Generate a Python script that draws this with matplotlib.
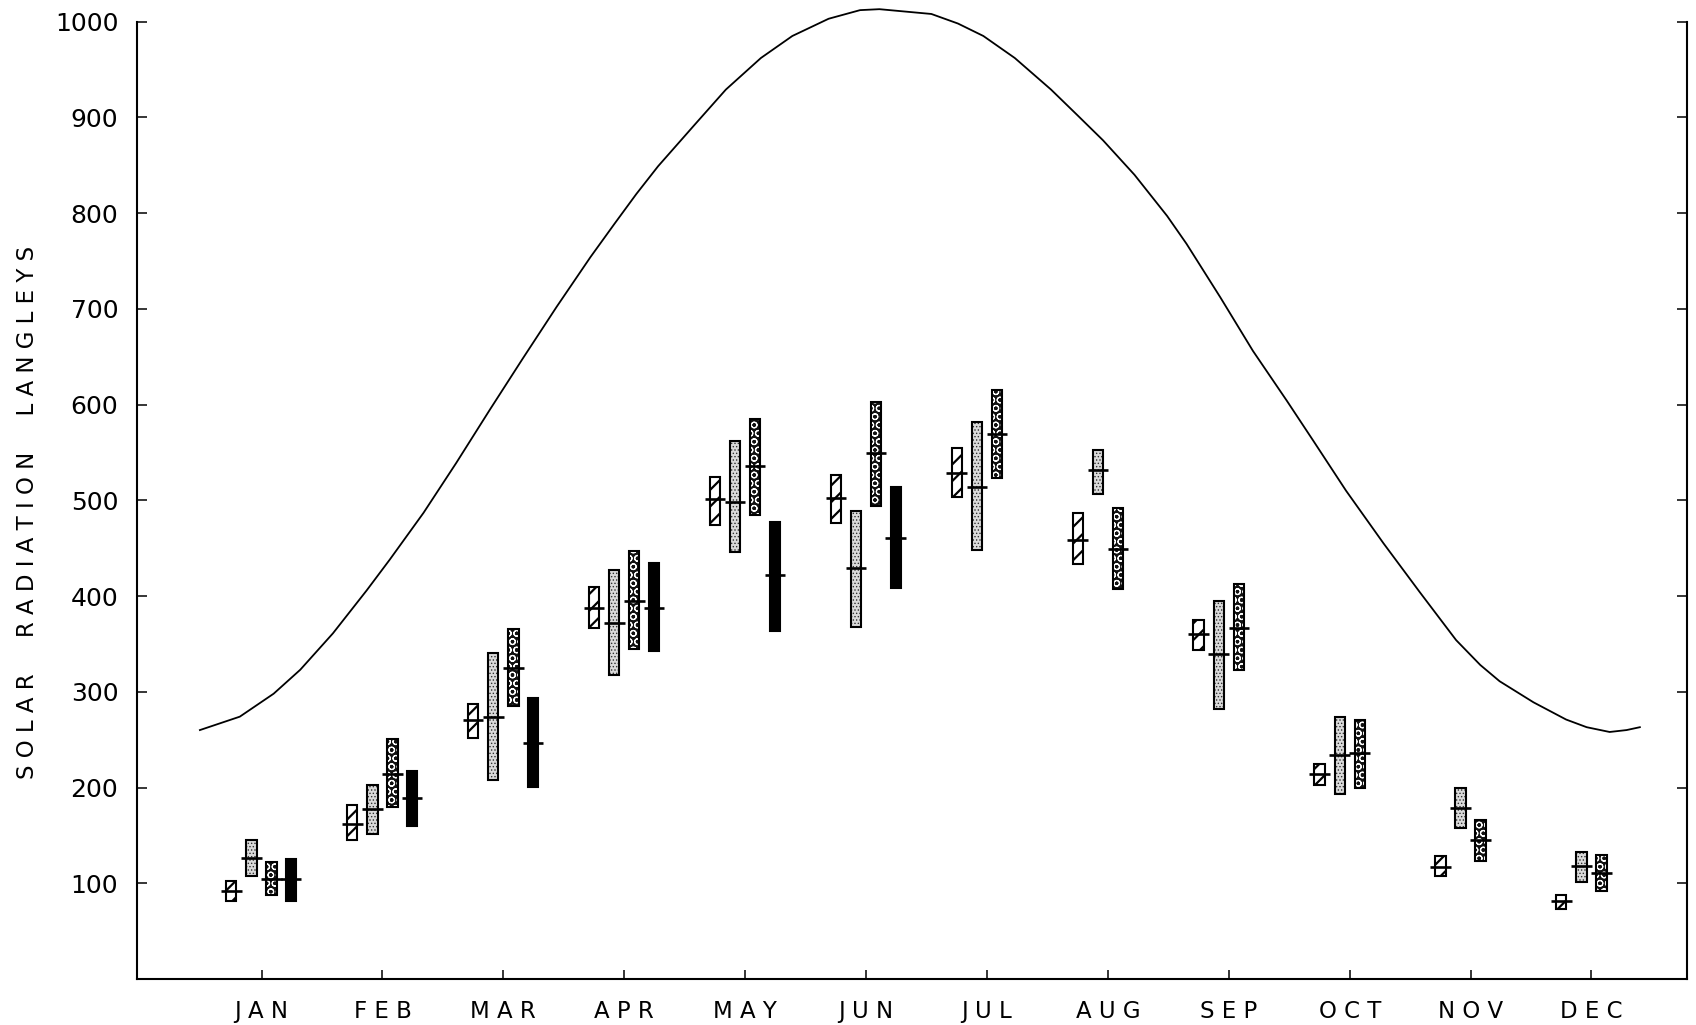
import numpy as np
import matplotlib
matplotlib.use("Agg")
import matplotlib.pyplot as plt

plt.rcParams['font.family'] = ['DejaVu Sans']
plt.rcParams['hatch.linewidth'] = 1.0

months = ["JAN", "FEB", "MAR", "APR", "MAY", "JUN",
          "JUL", "AUG", "SEP", "OCT", "NOV", "DEC"]
month_pos = np.arange(1, 13)

# clear-day envelope (month position, langleys)
curve_m = [0.49, 0.82, 1.10, 1.32, 1.59, 1.87, 2.06, 2.34, 2.61, 2.89,
           3.16, 3.44, 3.72, 3.92, 4.10, 4.28, 4.58, 4.84, 5.13, 5.39,
           5.69, 5.95, 6.11, 6.54, 6.76, 6.97, 7.23, 7.53, 7.75, 7.96,
           8.22, 8.49, 8.65, 8.93, 9.20, 9.48, 9.70, 9.97, 10.28, 10.58,
           10.88, 11.08, 11.24, 11.52, 11.79, 11.96, 12.15, 12.29, 12.40]
curve_v = [260, 274, 298, 323, 361, 406, 438, 487, 539, 595,
           648, 702, 754, 789, 820, 849, 892, 929, 962, 985,
           1003, 1012, 1013, 1008, 998, 985, 962, 929, 902, 876,
           840, 797, 768, 712, 656, 604, 562, 510, 455, 404,
           354, 328, 311, 289, 271, 263, 258, 260, 263]

# monthly ranges: low / mean / high, None where no record
hatch_lo = [81, 145, 252, 367, 474, 476, 503, 433, 344, 203, 108, 73]
hatch_mid = [92, 162, 270, 388, 501, 502, 529, 459, 360, 214, 117, 81]
hatch_hi = [102, 182, 287, 409, 524, 526, 555, 487, 375, 225, 128, 88]

stip_lo = [108, 151, 208, 317, 446, 368, 448, 507, 282, 193, 158, 101]
stip_mid = [126, 178, 274, 372, 498, 429, 514, 532, 339, 234, 179, 118]
stip_hi = [145, 203, 341, 427, 562, 489, 582, 553, 395, 274, 199, 133]

cross_lo = [88, 180, 285, 345, 485, 494, 523, 407, 323, 200, 123, 92]
cross_mid = [104, 214, 325, 395, 536, 549, 569, 449, 367, 236, 145, 111]
cross_hi = [122, 251, 366, 447, 585, 603, 615, 492, 413, 271, 166, 130]

black_lo = [81, 160, 201, 343, 363, 408, None, None, None, None, None, None]
black_mid = [104, 189, 247, 388, 422, 461, None, None, None, None, None, None]
black_hi = [125, 217, 293, 434, 477, 514, None, None, None, None, None, None]

fig = plt.figure(figsize=(16.96, 10.25), dpi=100)
ax = fig.add_axes([0.0808, 0.0449, 0.9139, 0.934])

bar_w = 0.085
tick_w = 0.17


def draw_series(offset, lo, mid, hi, face, hatch, hatch_color, hatch_lw):
    keep = [i for i in range(12) if lo[i] is not None]
    x = month_pos[keep] + offset
    low = np.array([lo[i] for i in keep], dtype=float)
    high = np.array([hi[i] for i in keep], dtype=float)
    mean = np.array([mid[i] for i in keep], dtype=float)
    fill = ax.bar(x, high - low, bottom=low, width=bar_w, color=face,
                  edgecolor=hatch_color, hatch=hatch, linewidth=0, zorder=2)
    for p in fill:
        if hasattr(p, 'set_hatch_linewidth'):
            p.set_hatch_linewidth(hatch_lw)
    ax.bar(x, high - low, bottom=low, width=bar_w, fill=False,
           edgecolor='black', linewidth=1.5, zorder=3)
    ax.hlines(mean, x - tick_w / 2, x + tick_w / 2, color='black',
              linewidth=1.9, zorder=4)


draw_series(-0.25, hatch_lo, hatch_mid, hatch_hi, 'white', '//', 'black', 1.6)
draw_series(-0.083, stip_lo, stip_mid, stip_hi, '#dadada', '.....', '#303030', 0.6)
draw_series(0.083, cross_lo, cross_mid, cross_hi, '#111111', 'OO', 'white', 0.8)
draw_series(0.245, black_lo, black_mid, black_hi, 'black', None, 'black', 1.0)

ax.plot(curve_m, curve_v, color='black', linewidth=1.3, clip_on=False,
        solid_joinstyle='round', zorder=5)

ax.set_xlim(-0.03, 12.79)
ax.set_ylim(0, 1000)
ax.set_yticks(range(100, 1001, 100))
ax.set_yticklabels([str(v) for v in range(100, 1001, 100)], fontsize=18)
ax.set_xticks(month_pos)
ax.set_xticklabels([" ".join(m) for m in months], fontsize=16.5)

ax.spines['top'].set_visible(False)
for side in ('left', 'right', 'bottom'):
    ax.spines[side].set_linewidth(1.5)
ax.tick_params(axis='y', direction='in', length=7, width=1.1, pad=13.5,
               right=True, labelright=False)
ax.tick_params(axis='x', direction='in', length=6.5, width=1.1, pad=15)

fig.text(0.016, 0.50, "S O L A R     R A D I A T I O N     L A N G L E Y S",
         rotation=90, ha='center', va='center', fontsize=16.5)

fig.savefig("out.png", dpi=100)
